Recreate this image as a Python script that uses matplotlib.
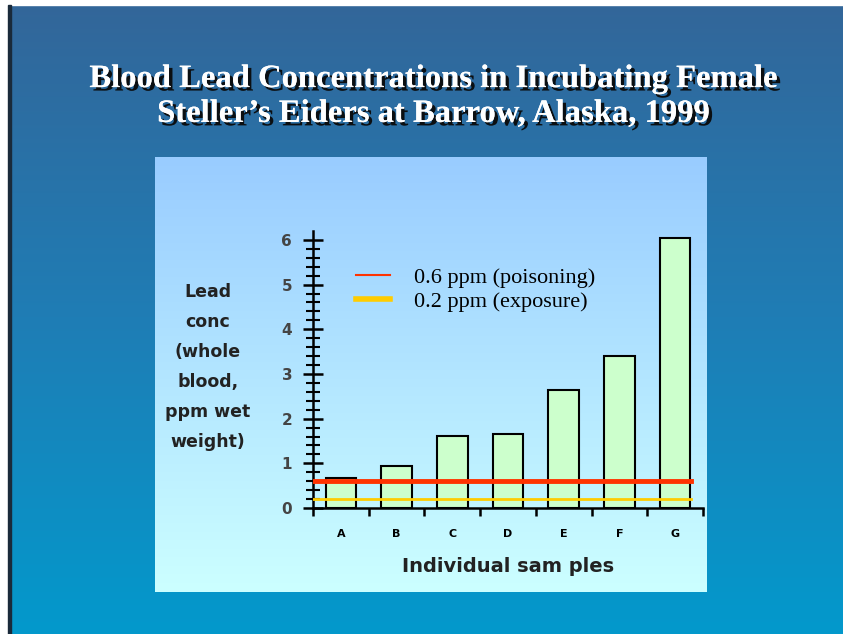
#Blood lead concentrations in Steller's Eiders - bar chart
import numpy as np
import matplotlib.pyplot as plt
import matplotlib.patheffects as pe
from matplotlib.lines import Line2D
from matplotlib.colors import LinearSegmentedColormap

#Data
samples = ['A', 'B', 'C', 'D', 'E', 'F', 'G']
lead_ppm = [0.67, 0.93, 1.61, 1.65, 2.64, 3.41, 6.05]
poison_level = 0.6
exposure_level = 0.2

W, H = 843, 634
fig = plt.figure(figsize=(W / 100, H / 100), dpi=100)

#Background (pixel coordinates, y down)
bg = fig.add_axes([0, 0, 1, 1])
bg.set_xlim(0, W)
bg.set_ylim(H, 0)
bg.axis('off')
grad = np.linspace(0, 1, 256).reshape(-1, 1)
outer = LinearSegmentedColormap.from_list('outer', ['#336699', '#1f7db5', '#0399cc'])
bg.imshow(grad, cmap=outer, extent=[0, W, H, 0], aspect='auto')
bg.add_patch(plt.Rectangle((0, 0), W, 5, color='white', zorder=2))
bg.add_patch(plt.Rectangle((0, 0), 8, H, color='white', zorder=2))
bg.add_patch(plt.Rectangle((8, 5), 2.5, H, color='#1a2a3a', zorder=2))
inner = LinearSegmentedColormap.from_list('inner', ['#99ccff', '#ccffff'])
bg.imshow(grad, cmap=inner, extent=[155, 707, 592, 157], aspect='auto', zorder=3)

#Title
title = "Blood Lead Concentrations in Incubating Female\nSteller\u2019s Eiders at Barrow, Alaska, 1999"
bg.text(433, 96, title, ha='center', va='center', fontsize=23.5, fontweight='bold',
        family='Liberation Serif', color='white', linespacing=1.16, zorder=5,
        path_effects=[pe.withSimplePatchShadow(offset=(2.5, -2.5), shadow_rgbFace='#0a0a0a', alpha=0.95),
                      pe.Normal()])

#Y label as a block of centered text
bg.text(208, 367, "Lead\nconc\n(whole\nblood,\nppm wet\nweight)", ha='center', va='center',
        fontsize=12.5, fontweight='bold', family='DejaVu Sans', color='#222222',
        linespacing=1.85, zorder=5)

#Main chart
ax = fig.add_axes([313 / W, (H - 508) / H, 390 / W, 277 / H])
ax.patch.set_alpha(0)
x = np.arange(len(samples))
ax.bar(x, lead_ppm, width=0.55, color='#ccffcc', edgecolor='black', linewidth=1.5, zorder=2)
ax.plot([-0.5, 6.28], [poison_level, poison_level], color='#ff3300', lw=3.5, zorder=3)
ax.plot([-0.5, 6.28], [exposure_level, exposure_level], color='#ffcc00', lw=2, zorder=3)

ax.set_xlim(-0.5, 6.5)
ax.set_ylim(0, 6.2)
for s in ['top', 'right']:
    ax.spines[s].set_visible(False)
for s in ['left', 'bottom']:
    ax.spines[s].set_linewidth(1.8)

ax.set_yticks(range(0, 7))
ax.set_yticks(np.arange(0, 6.2, 0.2), minor=True)
ax.tick_params(axis='y', which='major', direction='inout', length=14, width=1.8,
               labelsize=11, pad=8, labelcolor='#444444')
ax.tick_params(axis='y', which='minor', direction='inout', length=10, width=1.5)
for lab in ax.get_yticklabels():
    lab.set_fontweight('bold')
    lab.set_family('DejaVu Sans')

ax.set_xticks(np.arange(-0.5, 7, 1))
ax.set_xticklabels([])
ax.set_xticks(x, minor=True)
ax.set_xticklabels(samples, minor=True, fontsize=8, fontweight='bold', family='DejaVu Sans')
ax.tick_params(axis='x', which='major', direction='out', length=6, width=1.8)
ax.tick_params(axis='x', which='minor', length=0, pad=15)

ax.set_xlabel("Individual sam ples", fontsize=14, fontweight='bold', family='DejaVu Sans',
              color='#222222', labelpad=13)

handles = [Line2D([], [], color='#ff3300', lw=1.5), Line2D([], [], color='#ffcc00', lw=4)]
ax.legend(handles, ['0.6 ppm (poisoning)', '0.2 ppm (exposure)'], loc='upper left',
          bbox_to_anchor=(0.06, 0.94), frameon=False, handlelength=1.5, handletextpad=1.1,
          labelspacing=0.15, prop={'family': 'Liberation Serif', 'size': 16})

fig.savefig('out.png', dpi=100)
